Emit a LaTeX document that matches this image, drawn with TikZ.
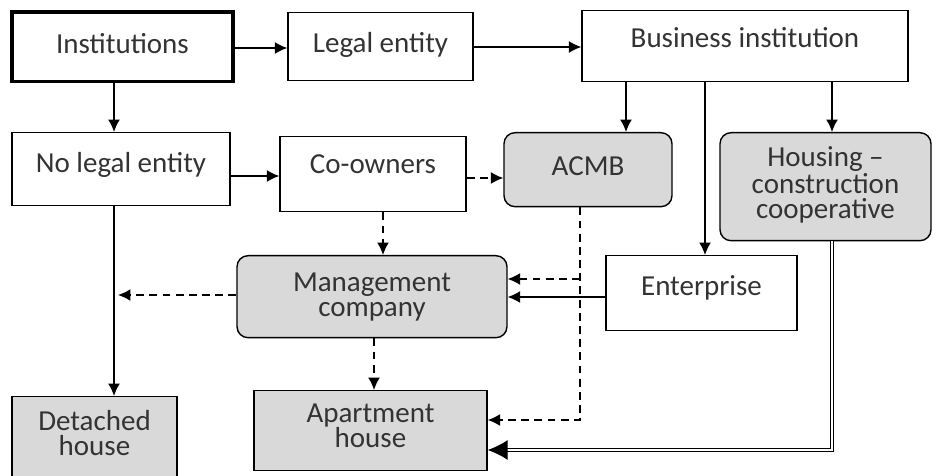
\documentclass[tikz,border=0pt]{standalone}
\usepackage{fontspec}
\setmainfont{Carlito}
\usetikzlibrary{arrows.meta}
\tikzset{
  box/.style={draw, line width=0.8pt, anchor=north, align=center, inner sep=0pt, text=black!80, font=\fontsize{16.5}{14.2}\selectfont},
  greybox/.style={box, fill=gray!30},
  roundbox/.style={greybox, rounded corners=0.22cm},
  pto/.style={-{Latex[length=2.5mm,width=2.4mm]}, line width=0.8pt},
  dpto/.style={pto, dash pattern=on 4.5pt off 3pt},
  dblpto/.style={-{Latex[length=4mm,width=4mm]}, double, double distance=1.2pt, line width=0.6pt}
}

\begin{document}
\begin{tikzpicture}[x=0.02cm, y=-0.02cm]
    \useasboundingbox (0,0) rectangle (933,476);

    \node[box, line width=2pt, minimum width=4.42cm, text height=.84cm, text depth=.56cm] (inst) at (122.5,10) {Institutions};
    \node[box, minimum width=3.70cm, text height=.80cm, text depth=.56cm] (legal) at (380.5,12) {Legal entity};
    \node[box, minimum width=6.52cm, text height=.74cm, text depth=.68cm] (business) at (745,10) {Business institution};

    \node[box, minimum width=4.36cm, text height=.80cm, text depth=.66cm] (nolegal) at (121,132) {No legal entity};
    \node[box, minimum width=3.72cm, text height=.74cm, text depth=.76cm] (coowners) at (373,136) {Co-owners};
    \node[roundbox, minimum width=3.36cm, text height=.86cm, text depth=.62cm] (acmb) at (588,132) {ACMB};
    \node[roundbox, minimum width=4.22cm, text height=1.72cm, text depth=.44cm] (housing) at (825.5,132) {Housing --\\construction\\cooperative};

    \node[roundbox, minimum width=5.40cm, text height=1.22cm, text depth=.42cm] (mgmt) at (372,255) {Management\\company};
    \node[box, minimum width=3.82cm, text height=.80cm, text depth=.70cm] (enterprise) at (701.5,255) {Enterprise};

    \node[greybox, minimum width=3.30cm, text height=1.18cm, text depth=.46cm] (detached) at (94.5,396) {Detached\\house};
    \node[greybox, minimum width=4.66cm, text height=1.14cm, text depth=.46cm] (apartment) at (370.5,390) {Apartment\\house};

    \coordinate (trunk) at (118,295);
    \coordinate (acmbfork) at (580,279);

    \draw[pto] (inst.east |- 0,48) -- (legal.west |- 0,48);
    \draw[pto] (legal.east |- 0,47) -- (business.west |- 0,47);
    \draw[pto] (inst.south -| 114,0) -- (nolegal.north -| 114,0);
    \draw[pto] (nolegal.east |- 0,176) -- (coowners.west |- 0,176);
    \draw[dpto] (coowners.east |- 0,178) -- (acmb.west |- 0,178);
    \draw[pto] (business.south -| 626,0) -- (acmb.north -| 626,0);
    \draw[pto] (business.south -| 705,0) -- (enterprise.north -| 705,0);
    \draw[pto] (business.south -| 832,0) -- (housing.north -| 832,0);
    \draw[dpto] (coowners.south -| 383,0) -- (mgmt.north -| 383,0);
    \draw[pto] (nolegal.south -| 114,0) -- (detached.north -| 114,0);
    \draw[dpto] (mgmt.west |- trunk) -- (trunk);
    \draw[dpto] (mgmt.south -| 374,0) -- (apartment.north -| 374,0);
    \draw[dpto] (acmb.south -| 580,0) |- (apartment.east |- 0,420);
    \draw[dpto] (acmbfork) -- (mgmt.east |- acmbfork);
    \draw[pto] (enterprise.west |- 0,297) -- (mgmt.east |- 0,297);
    \draw[dblpto] (housing.south -| 832,0) |- (apartment.east |- 0,450);
\end{tikzpicture}
\end{document}
